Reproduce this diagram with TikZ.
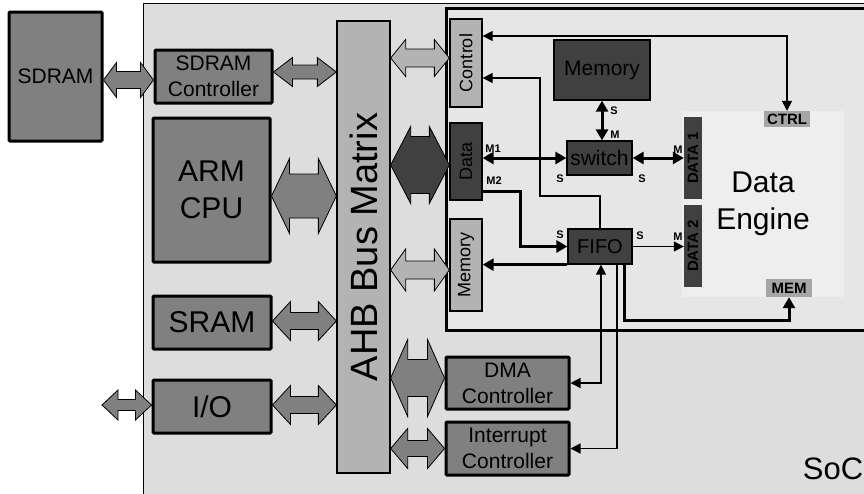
\documentclass[tikz,border=0pt]{standalone}
\usepackage{fontspec}
\setmainfont{Liberation Sans}
\usepackage{graphicx}
\usetikzlibrary{arrows.meta,calc}
\definecolor{BoxGray}{HTML}{808080}
\definecolor{DarkBox}{HTML}{404040}
\definecolor{LightBox}{HTML}{B3B3B3}
\definecolor{SocFill}{HTML}{DDDDDD}
\definecolor{InnerFill}{HTML}{E6E6E6}
\definecolor{EngineFill}{HTML}{EEEEEE}
\definecolor{TagFill}{HTML}{A6A6A6}
\newcommand{\fsz}[2]{\fontsize{#1}{#2}\selectfont}
\newcommand{\busarrow}[7]{%
  \draw[fill=#1, line width=0.8pt] let \p1=($(#2)+(0pt,#4pt)$), \p2=(#3) in
    (\x1,\y1) -- (\x1+#7pt,\y1+#6pt) -- (\x1+#7pt,\y1+#5pt) -- (\x2-#7pt,\y1+#5pt)
    -- (\x2-#7pt,\y1+#6pt) -- (\x2,\y1) -- (\x2-#7pt,\y1-#6pt) -- (\x2-#7pt,\y1-#5pt)
    -- (\x1+#7pt,\y1-#5pt) -- (\x1+#7pt,\y1-#6pt) -- cycle;}

\begin{document}
\begin{tikzpicture}[x=1pt, y=-1pt,
  chip/.style={draw, line width=3pt, fill=BoxGray, rounded corners=1pt, align=center, inner sep=0pt},
  port/.style={draw, line width=1.3pt, inner sep=0pt, font=\fsz{18}{18}},
  darkbox/.style={draw, line width=1.3pt, fill=DarkBox, inner sep=0pt, font=\fsz{21}{21}},
  engineport/.style={fill=DarkBox, inner sep=0pt, minimum width=18pt, minimum height=82pt, font=\bfseries\fsz{15}{15}},
  tagbox/.style={fill=TagFill, inner sep=0pt, minimum width=46pt, font=\bfseries\fsz{15}{15}},
  portlbl/.style={font=\bfseries\fsz{11}{11}, inner sep=0pt},
  wire/.style={line width=1.3pt, >={Triangle[length=10pt,width=10pt]}},
  bus/.style={line width=3pt, >={Triangle[length=11pt,width=12pt]}}]
  \useasboundingbox (0,0) rectangle (864,493);

  \node[draw, line width=1pt, fill=SocFill, anchor=north west, minimum width=740pt, minimum height=500pt, inner sep=0pt] (soc) at (143,3) {};
  \node[font=\fsz{31}{31}, inner sep=0pt] (soclabel) at (833,469) {SoC};
  \node[draw, line width=3pt, fill=InnerFill, anchor=north west, minimum width=440pt, minimum height=322pt, inner sep=0pt] (core) at (445,7) {};
  \node[fill=EngineFill, minimum width=162pt, minimum height=186pt, align=center, font=\fsz{30}{37}] (engine) at (763,204) {Data\\Engine};

  \node[chip, minimum width=93pt, minimum height=129pt, font=\fsz{21}{26}] (sdram) at (55.5,76.5) {SDRAM};
  \node[chip, minimum width=117pt, minimum height=53pt, font=\fsz{21}{26}] (sdramctl) at (213.5,76.5) {SDRAM\\Controller};
  \node[chip, minimum width=117pt, minimum height=144pt, font=\fsz{30}{37}] (arm) at (211.5,190) {ARM\\CPU};
  \node[chip, minimum width=118pt, minimum height=53pt, font=\fsz{30}{37}] (sram) at (212,322.5) {SRAM};
  \node[chip, minimum width=118pt, minimum height=53pt, font=\fsz{30}{37}] (io) at (212,406.5) {I/O};
  \node[chip, minimum width=123pt, minimum height=52pt, font=\fsz{21}{26}] (dma) at (507.5,383) {DMA\\Controller};
  \node[chip, minimum width=123pt, minimum height=53pt, font=\fsz{21}{26}] (irq) at (507.5,448.5) {Interrupt\\Controller};
  \node[port, fill=LightBox, minimum width=53pt, minimum height=452pt, font=\fsz{38}{38}] (ahb) at (363.5,247) {\rotatebox{90}{AHB Bus Matrix}};

  \node[port, fill=LightBox, minimum width=32pt, minimum height=88pt] (ctrlport) at (466,63) {\rotatebox{90}{Control}};
  \node[port, fill=DarkBox, minimum width=32pt, minimum height=77pt] (dataport) at (466,161.5) {\rotatebox{90}{Data}};
  \node[port, fill=LightBox, minimum width=32pt, minimum height=92pt] (memport) at (466,265) {\rotatebox{90}{Memory}};

  \node[darkbox, minimum width=96pt, minimum height=60pt] (memory) at (602,70) {Memory};
  \node[darkbox, minimum width=65pt, minimum height=34pt] (switch) at (599.5,158) {switch};
  \node[darkbox, minimum width=64pt, minimum height=35pt, font=\fsz{20}{20}] (fifo) at (600,246.5) {FIFO};
  \node[engineport] (data1) at (693,158) {\rotatebox{90}{DATA 1}};
  \node[engineport] (data2) at (693,246) {\rotatebox{90}{DATA 2}};
  \node[tagbox, minimum height=16pt] (ctrl) at (787,119) {CTRL};
  \node[tagbox, minimum height=18pt] (mem) at (789,288) {MEM};

  % bus links
  \coordinate (ioext) at (102,405);
  \busarrow{BoxGray}{sdram.east}{sdramctl.west}{-3.5}{8.5}{17.5}{13}
  \busarrow{BoxGray}{sdramctl.east}{ahb.west}{4.5}{7}{14.5}{19}
  \busarrow{BoxGray}{arm.east}{ahb.west}{-6}{22}{37.5}{18}
  \busarrow{BoxGray}{sram.east}{ahb.west}{1.5}{8.5}{19.5}{18}
  \busarrow{BoxGray}{io.east}{ahb.west}{1.5}{8.5}{19.5}{18}
  \busarrow{BoxGray}{ioext}{io.west}{0}{5.5}{15}{16}
  \busarrow{LightBox}{ahb.east|-ctrlport.west}{ctrlport.west}{5}{9}{18.5}{15}
  \busarrow{DarkBox}{ahb.east|-dataport.west}{dataport.west}{-3.5}{28.5}{38.5}{20}
  \busarrow{LightBox}{ahb.east|-memport.west}{memport.west}{-5}{9}{21}{15}
  \busarrow{BoxGray}{ahb.east|-dma.west}{dma.west}{5}{18.5}{38.5}{17}
  \busarrow{BoxGray}{ahb.east|-irq.west}{irq.west}{0}{8}{20}{17}

  % signal links
  \coordinate (ctlbend) at (540,196);
  \draw[wire, <->] ([yshift=27pt]ctrlport.east) -| (ctrl.north);
  \draw[wire, ->] (fifo.north) |- (ctlbend) |- ([yshift=-15pt]ctrlport.east);
  \draw[bus, <->] (switch.west -| dataport.east) -- (switch.west);
  \draw[bus, <->] (memory.south) -- (memory.south |- switch.north);
  \draw[bus, <->] (switch.east) -- (switch.east -| data1.west);
  \draw[bus, ->] ([yshift=-29.5pt]dataport.east) -| ([xshift=-47pt]fifo.west) -- (fifo.west);
  \draw[wire, ->] (fifo.east) -- (fifo.east -| data2.west);
  \draw[bus, ->] (fifo.south west) -- (fifo.south west -| memport.east);
  \draw[wire, <->] ([xshift=1pt]fifo.south) |- (dma.east);
  \draw[wire, ->] ([xshift=17pt]fifo.south) |- (irq.east);
  \draw[bus, ->] ([xshift=24pt]fifo.south) |- ([yshift=-23pt]mem.south) -- (mem.south);

  \foreach \px/\py/\txt [count=\i] in {493/149/M1, 494/181/M2, 560/179/S, 642/179/S, 614/111/S,
      615/135/M, 678/150/M, 560/235/S, 640/236/S, 678/237/M}
    \node[portlbl] (lbl\i) at (\px,\py) {\txt};
\end{tikzpicture}
\end{document}
